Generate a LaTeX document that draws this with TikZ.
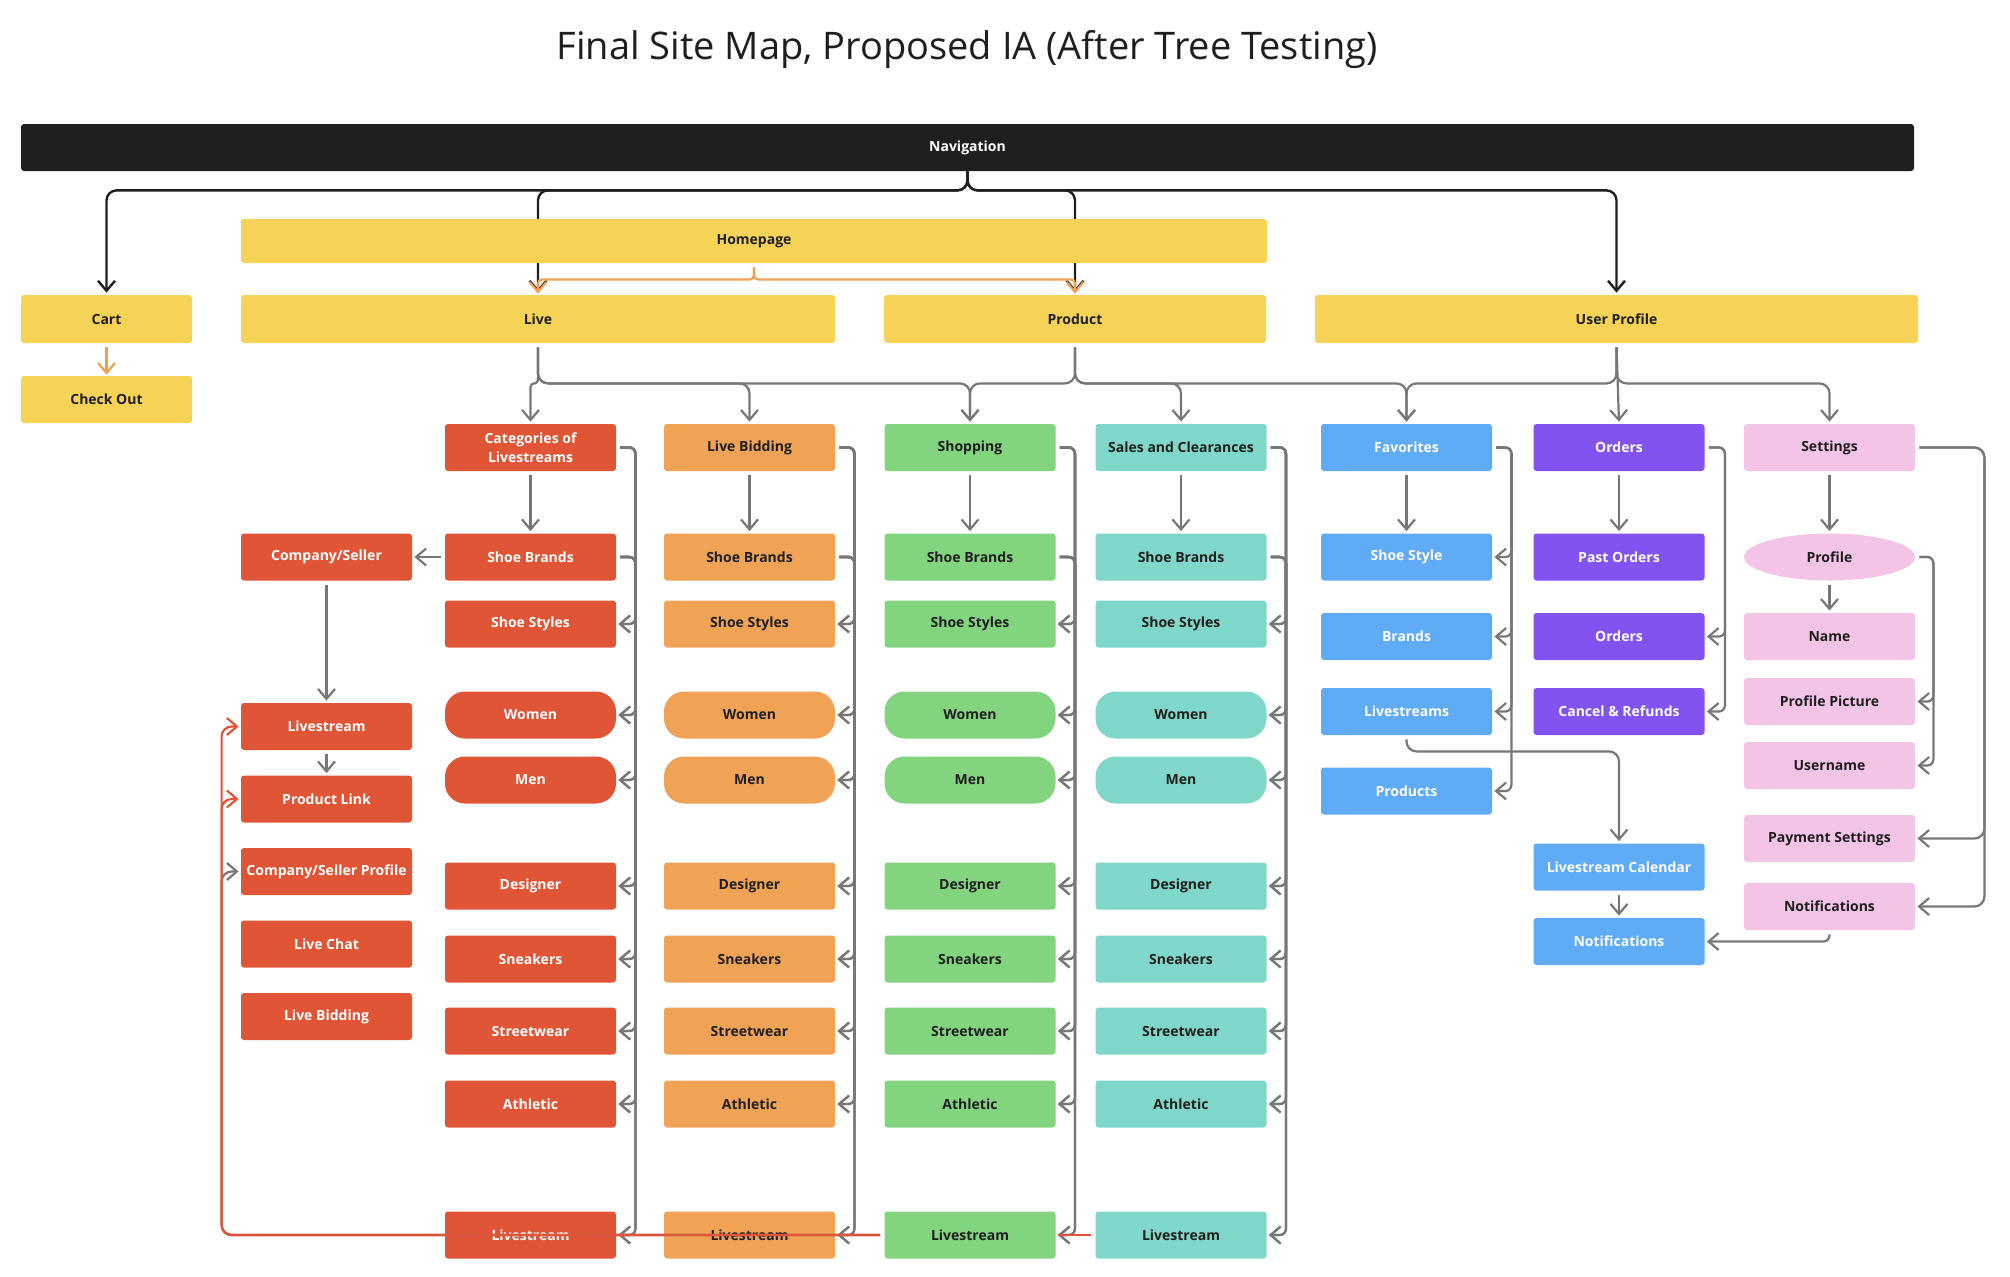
\documentclass[tikz,border=0pt]{standalone}
\usepackage{fontspec}
\setmainfont{Open Sans}
\usetikzlibrary{arrows.meta,shapes.geometric,backgrounds}
\definecolor{navblack}{HTML}{1F1F1F}
\definecolor{siteyellow}{HTML}{F6D356}
\definecolor{sitered}{HTML}{E05535}
\definecolor{siteorange}{HTML}{F0A355}
\definecolor{sitegreen}{HTML}{83D47F}
\definecolor{siteteal}{HTML}{7ED7C9}
\definecolor{siteblue}{HTML}{5FABF6}
\definecolor{sitepurple}{HTML}{8353F2}
\definecolor{sitepink}{HTML}{F4C4E7}
\definecolor{textdark}{HTML}{1E1E1E}
\definecolor{linegray}{HTML}{777777}
\definecolor{lineorange}{HTML}{F0A050}
\definecolor{linered}{HTML}{E0553A}

\begin{document}
\begin{tikzpicture}[x=0.5pt,y=-0.5pt,
  >={Straight Barb[length=5pt,width=8.5pt]},
  sitebox/.style={rounded corners=1.5pt,minimum width=85.5pt,minimum height=23.5pt,
    inner sep=1pt,align=center,font=\bfseries\fontsize{7}{9.5}\selectfont},
  ylwbox/.style={sitebox,fill=siteyellow,text=textdark},
  redbox/.style={sitebox,fill=sitered,text=white},
  orgbox/.style={sitebox,fill=siteorange,text=textdark},
  grnbox/.style={sitebox,fill=sitegreen,text=textdark},
  tealbox/.style={sitebox,fill=siteteal,text=textdark},
  bluebox/.style={sitebox,fill=siteblue,text=white},
  purbox/.style={sitebox,fill=sitepurple,text=white},
  pinkbox/.style={sitebox,fill=sitepink,text=textdark},
  pill/.style={rounded corners=10pt},
  conn/.style={->,draw=linegray,line width=1.1pt,rounded corners=5pt,
    shorten <=2pt,shorten >=1pt},
  bus/.style={conn,rounded corners=3pt},
  navconn/.style={conn,draw=navblack,line width=1.2pt,shorten <=0pt},
  orgconn/.style={conn,draw=lineorange,rounded corners=2pt,shorten >=0.5pt},
  redconn/.style={conn,draw=linered}]
  \useasboundingbox (0,0) rectangle (2010,1276);
  \node[font=\fontsize{19}{22}\selectfont,text=textdark] (title) at (967,50)
    {Final Site Map, Proposed IA (After Tree Testing)};
  \node[sitebox,fill=navblack,text=white,minimum width=946.5pt] (nav) at (967.5,147.5) {Navigation};
  \node[ylwbox,minimum width=513pt,minimum height=22pt] (home) at (754,241) {Homepage};
  \node[ylwbox,minimum height=24pt] (cart) at (106.5,319) {Cart};
  \node[ylwbox,minimum width=297pt,minimum height=24pt] (live) at (538,319) {Live};
  \node[ylwbox,minimum width=191pt,minimum height=24pt] (product) at (1075,319) {Product};
  \node[ylwbox,minimum width=301.5pt,minimum height=24pt] (user) at (1616.5,319) {User Profile};
  \node[ylwbox] (checkout) at (106.5,399.5) {Check Out};

  \foreach \col/\cx/\sty/\toplbl in {1/530.5/redbox/{Categories of\\Livestreams},
      2/749.5/orgbox/{Live Bidding},3/970/grnbox/{Shopping},4/1181/tealbox/{Sales and Clearances}} {
    \node[\sty] (top\col) at (\cx,447.5) {\toplbl};
    \foreach \nm/\ry/\lbl in {brands/557/Shoe Brands,styles/624/Shoe Styles,
        designer/886/Designer,sneakers/959/Sneakers,streetwear/1031/Streetwear,
        athletic/1104/Athletic,stream/1235/Livestream}
      \node[\sty] (\nm\col) at (\cx,\ry) {\lbl};
    \node[\sty,pill] (women\col) at (\cx,715) {Women};
    \node[\sty,pill] (men\col) at (\cx,780) {Men};
  }

  \node[redbox] (company) at (326.5,557) {Company/Seller};
  \node[redbox] (slive) at (326.5,726.5) {Livestream};
  \node[redbox] (plink) at (326.5,799) {Product Link};
  \node[redbox] (csprofile) at (326.5,871.5) {Company/Seller Profile};
  \node[redbox] (livechat) at (326.5,944) {Live Chat};
  \node[redbox] (sbid) at (326.5,1016.5) {Live Bidding};

  \node[bluebox] (favorites) at (1406.5,447.5) {Favorites};
  \node[bluebox] (shoestyle) at (1406.5,557) {Shoe Style};
  \node[bluebox] (brands) at (1406.5,636.5) {Brands};
  \node[bluebox] (streams) at (1406.5,711.5) {Livestreams};
  \node[bluebox] (products) at (1406.5,791) {Products};
  \node[bluebox] (calendar) at (1619,867) {Livestream Calendar};
  \node[bluebox] (notifb) at (1619,941.5) {Notifications};

  \node[purbox] (orders) at (1619,447.5) {Orders};
  \node[purbox] (pastorders) at (1619,557) {Past Orders};
  \node[purbox] (orders2) at (1619,636.5) {Orders};
  \node[purbox] (cancel) at (1619,711.5) {Cancel \& Refunds};

  \node[pinkbox] (settings) at (1829.5,447.5) {Settings};
  \node[pinkbox,ellipse] (profile) at (1829.5,557) {Profile};
  \node[pinkbox] (name) at (1829.5,636.5) {Name};
  \node[pinkbox] (picture) at (1829.5,701.5) {Profile Picture};
  \node[pinkbox] (username) at (1829.5,765.5) {Username};
  \node[pinkbox] (payment) at (1829.5,838.5) {Payment Settings};
  \node[pinkbox] (notifp) at (1829.5,906.5) {Notifications};

  \begin{pgfonlayer}{background}
    \foreach \t in {cart,live,product,user}
      \draw[navconn] (nav.south) -- ++(0,19) -| (\t.north);
  \end{pgfonlayer}
  \foreach \t in {live,product}
    \draw[orgconn] (home.south) -- ++(0,16) -| (\t.north);
  \draw[orgconn] (cart) -- (checkout);

  \draw[conn,rounded corners=1.8pt] (live.south) -- ++(0,40) -| (top1.north);
  \foreach \t in {top2,top3}
    \draw[conn] (live.south) -- ++(0,40) -| (\t.north);
  \foreach \t in {top3,top4,favorites}
    \draw[conn] (product.south) -- ++(0,40) -| (\t.north);
  \foreach \t in {favorites,settings}
    \draw[conn] (user.south) -- ++(0,40) -| (\t.north);
  \draw[conn] (user.south) -- (orders.north);

  \foreach \a/\b in {top1/brands1,top2/brands2,top3/brands3,top4/brands4,
      favorites/shoestyle,orders/pastorders,settings/profile,profile/name,
      company/slive,slive/plink,calendar/notifb,brands1/company}
    \draw[conn] (\a) -- (\b);

  \foreach \col in {1,...,4}
    \foreach \nm in {styles,women,men,designer,sneakers,streetwear,athletic,stream} {
      \draw[bus] (top\col.east) -| ([xshift=9.5pt]\nm\col.east) -- (\nm\col.east);
      \draw[bus] (brands\col.east) -| ([xshift=9.5pt]\nm\col.east) -- (\nm\col.east);
    }
  \foreach \t in {shoestyle,brands,streams,products}
    \draw[bus] (favorites.east) -| ([xshift=9.5pt]\t.east) -- (\t.east);
  \foreach \t in {orders2,cancel}
    \draw[bus] (orders.east) -| ([xshift=10pt]\t.east) -- (\t.east);
  \foreach \t in {picture,username}
    \draw[bus] (profile.east) -| ([xshift=9pt]\t.east) -- (\t.east);
  \foreach \t in {payment,notifp}
    \draw[conn] (settings.east) -| ([xshift=34.5pt]\t.east) -- (\t.east);
  \draw[conn] (streams.south) -- ++(0,16) -| (calendar.north);
  \draw[bus] (notifp.south) |- (notifb.east);

  \draw[conn] (stream3.west) -| ([xshift=-9.5pt]csprofile.west) -- (csprofile.west);
  \draw[redconn] (stream3.west) -| ([xshift=-9.5pt]plink.west) -- (plink.west);
  \draw[redconn] (stream3.west) -| ([xshift=-9.5pt]slive.west) -- (slive.west);
  \draw[redconn,-] (stream4.west) -- (stream3.east);
\end{tikzpicture}
\end{document}
